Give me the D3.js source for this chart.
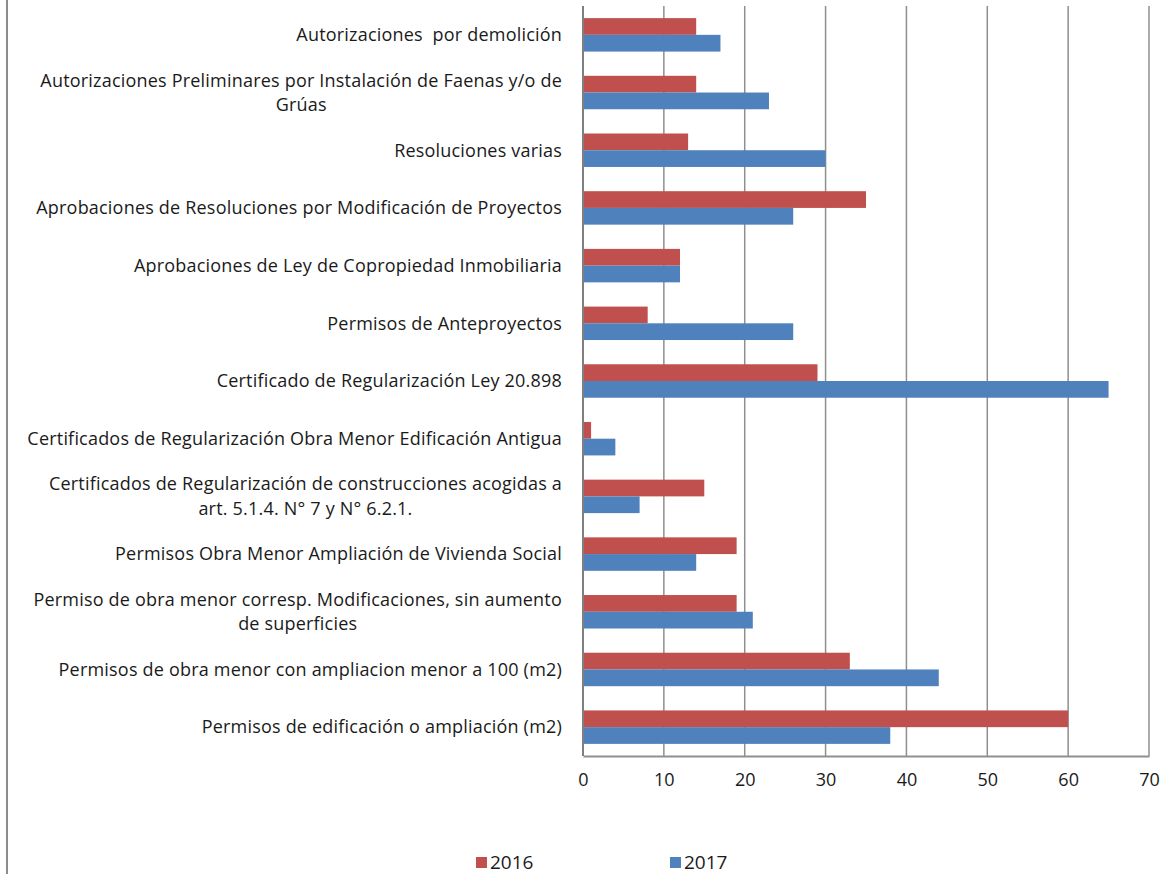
<!DOCTYPE html>
<html>
<head>
<meta charset="utf-8">
<script src="https://cdn.jsdelivr.net/npm/d3@7"></script>
<style>
  body { margin: 0; background: #fff; }
  text { font-family: "Open Sans", Lato, sans-serif; fill: #1a1a1a; }
</style>
</head>
<body>
<div id="chart"></div>
<script>
// Categories, top to bottom (each is a list of label lines)
const categories = [
    ['Autorizaciones  por demolición'],
    ['Autorizaciones Preliminares por Instalación de Faenas y/o de', 'Grúas'],
    ['Resoluciones varias'],
    ['Aprobaciones de Resoluciones por Modificación de Proyectos'],
    ['Aprobaciones de Ley de Copropiedad Inmobiliaria'],
    ['Permisos de Anteproyectos'],
    ['Certificado de Regularización Ley 20.898'],
    ['Certificados de Regularización Obra Menor Edificación Antigua'],
    ['Certificados de Regularización de construcciones acogidas a', 'art. 5.1.4. N° 7 y N° 6.2.1.'],
    ['Permisos Obra Menor Ampliación de Vivienda Social'],
    ['Permiso de obra menor corresp. Modificaciones, sin aumento', 'de superficies'],
    ['Permisos de obra menor con ampliacion menor a 100 (m2)'],
    ['Permisos de edificación o ampliación (m2)']
];
const values2016 = [14, 14, 13, 35, 12, 8, 29, 1, 15, 19, 19, 33, 60];
const values2017 = [17, 23, 30, 26, 12, 26, 65, 4, 7, 14, 21, 44, 38];
const seriesNames = ['2016', '2017'];
const xTicks = [0, 10, 20, 30, 40, 50, 60, 70];

const width = 1166;
const height = 874;
const margin = { top: 6, right: 17, bottom: 118, left: 583 };

const colors = { '2016': '#C0504D', '2017': '#4F81BD' };

const labelSize = 18;
const lineGap = 24.6;

const svg = d3.select('#chart')
    .append('svg')
    .attr('width', width)
    .attr('height', height);

// left frame line
svg.append('line')
    .attr('x1', 7).attr('x2', 7)
    .attr('y1', 0).attr('y2', height)
    .attr('stroke', '#8c8c8c')
    .attr('stroke-width', 2);

const xScale = d3.scaleLinear()
    .domain([0, 70])
    .range([margin.left, width - margin.right]);

const yScale = d3.scaleBand()
    .domain(d3.range(categories.length))
    .range([margin.top, height - margin.bottom])
    .paddingInner(0.42)
    .paddingOuter(0.21);

const ySub = d3.scaleBand()
    .domain(seriesNames)
    .range([0, yScale.bandwidth()]);

const plotBottom = height - margin.bottom;

// vertical gridlines
svg.append('g')
    .selectAll('line')
    .data(xTicks.slice(1))
    .join('line')
    .attr('x1', d => xScale(d)).attr('x2', d => xScale(d))
    .attr('y1', margin.top).attr('y2', plotBottom)
    .attr('stroke', '#8f8f8f')
    .attr('stroke-width', 1.5);

// bars
const rows = categories.map((c, i) => ({ i, '2016': values2016[i], '2017': values2017[i] }));
const groups = svg.append('g')
    .selectAll('g')
    .data(rows)
    .join('g')
    .attr('transform', d => `translate(0, ${yScale(d.i)})`);

groups.selectAll('rect')
    .data(d => seriesNames.map(s => ({ s, v: d[s] })))
    .join('rect')
    .attr('x', xScale(0))
    .attr('y', d => ySub(d.s))
    .attr('width', d => xScale(d.v) - xScale(0))
    .attr('height', ySub.bandwidth())
    .attr('fill', d => colors[d.s]);

// axes lines (zero line + bottom)
svg.append('line')
    .attr('x1', xScale(0)).attr('x2', xScale(0))
    .attr('y1', margin.top).attr('y2', plotBottom)
    .attr('stroke', '#7f7f7f').attr('stroke-width', 2);

const xAxis = d3.axisBottom(xScale)
    .tickValues(xTicks)
    .tickSize(0)
    .tickPadding(17);

const xg = svg.append('g')
    .attr('transform', `translate(0, ${plotBottom})`)
    .call(xAxis);
xg.select('.domain').attr('stroke', '#8f8f8f').attr('stroke-width', 2);
xg.selectAll('text')
    .style('font-family', '"Open Sans", Lato, sans-serif')
    .style('font-size', '18px')
    .attr('fill', '#1a1a1a');

// category labels: one text per line, second line centred under the first
const labelGroups = svg.append('g')
    .selectAll('g')
    .data(categories)
    .join('g')
    .attr('transform', (d, i) =>
        `translate(0, ${yScale(i) + yScale.bandwidth() / 2 - (d.length - 1) * lineGap / 2})`);

labelGroups.each(function (lines) {
    const g = d3.select(this);
    const first = g.append('text')
        .attr('x', 562)
        .attr('dy', '0.35em')
        .attr('text-anchor', 'end')
        .attr('font-size', labelSize)
        .style('letter-spacing', '0.2px')
        .style('white-space', 'pre')
        .text(lines[0]);
    if (lines.length > 1) {
        const w = first.node().getComputedTextLength();
        g.append('text')
            .attr('x', 562 - w / 2)
            .attr('y', lineGap)
            .attr('dy', '0.35em')
            .attr('text-anchor', 'middle')
            .attr('font-size', labelSize)
            .style('letter-spacing', '0.2px')
            .text(lines[1]);
    }
});

// legend
const legend = svg.append('g')
    .selectAll('g')
    .data(seriesNames)
    .join('g')
    .attr('transform', (d, i) => `translate(${476 + i * 194}, 857)`);

legend.append('rect')
    .attr('width', 11)
    .attr('height', 11)
    .attr('fill', d => colors[d]);

legend.append('text')
    .attr('x', 14)
    .attr('y', 12)
    .attr('font-size', 19)
    .text(d => d);
</script>
</body>
</html>
